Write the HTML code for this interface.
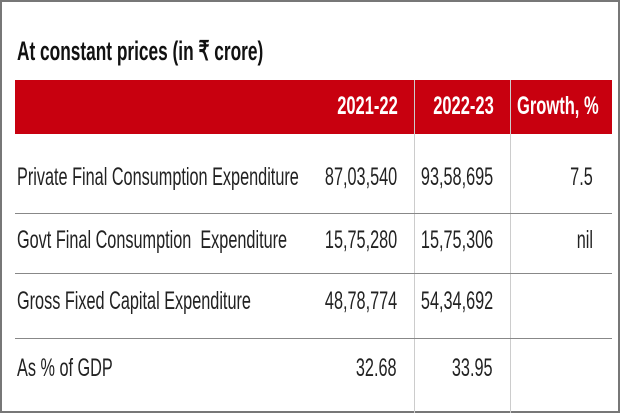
<!DOCTYPE html>
<html><head><style>
body{margin:0;width:620px;height:413px;background:#fff;position:relative;overflow:hidden;font-family:"Liberation Sans",sans-serif;color:#222}
.frame{position:absolute;left:0;top:0;width:616px;height:409px;border:2px solid #777}
.t{position:absolute;white-space:nowrap;line-height:1}
.l{transform-origin:left center}
.r{transform-origin:right center}
.hl{position:absolute;left:15px;width:597px;height:1px;background:#888}
.vl{position:absolute;width:1px;background:#aaa}
.b{font-size:25px;transform:scaleX(0.65)}
</style></head><body>
<div class="frame"></div>
<div class="t l" style="left:17px;top:38px;font-size:27px;font-weight:bold;color:#111;transform:scaleX(0.64)">At constant prices (in ₹ crore)</div>
<div style="position:absolute;left:15px;top:80px;width:597px;height:54px;background:#c8000f"></div>
<div class="vl" style="left:414px;top:80px;height:333px;background:#ccc"></div>
<div class="vl" style="left:510px;top:80px;height:333px;background:#ccc"></div>
<div class="t r" style="right:222px;top:94px;font-size:25px;font-weight:bold;color:#fff;transform:scaleX(0.66)">2021-22</div>
<div class="t r" style="right:126px;top:94px;font-size:25px;font-weight:bold;color:#fff;transform:scaleX(0.66)">2022-23</div>
<div class="t r" style="right:21px;top:94px;font-size:25px;font-weight:bold;color:#fff;transform:scaleX(0.66)">Growth, %</div>
<div class="hl" style="top:213px"></div>
<div class="hl" style="top:273px"></div>
<div class="hl" style="top:338px"></div>
<div class="t l b" style="left:17px;top:165px">Private Final Consumption Expenditure</div>
<div class="t r b" style="right:223px;top:165px">87,03,540</div>
<div class="t r b" style="right:127px;top:165px">93,58,695</div>
<div class="t r b" style="right:27px;top:165px">7.5</div>
<div class="t l b" style="left:17px;top:228px">Govt Final Consumption&nbsp; Expenditure</div>
<div class="t r b" style="right:223px;top:228px">15,75,280</div>
<div class="t r b" style="right:127px;top:228px">15,75,306</div>
<div class="t r b" style="right:27px;top:228px">nil</div>
<div class="t l b" style="left:17px;top:289px">Gross Fixed Capital Expenditure</div>
<div class="t r b" style="right:223px;top:289px">48,78,774</div>
<div class="t r b" style="right:127px;top:289px">54,34,692</div>
<div class="t l b" style="left:17px;top:356px">As % of GDP</div>
<div class="t r b" style="right:223px;top:356px">32.68</div>
<div class="t r b" style="right:127px;top:356px">33.95</div>
</body></html>
